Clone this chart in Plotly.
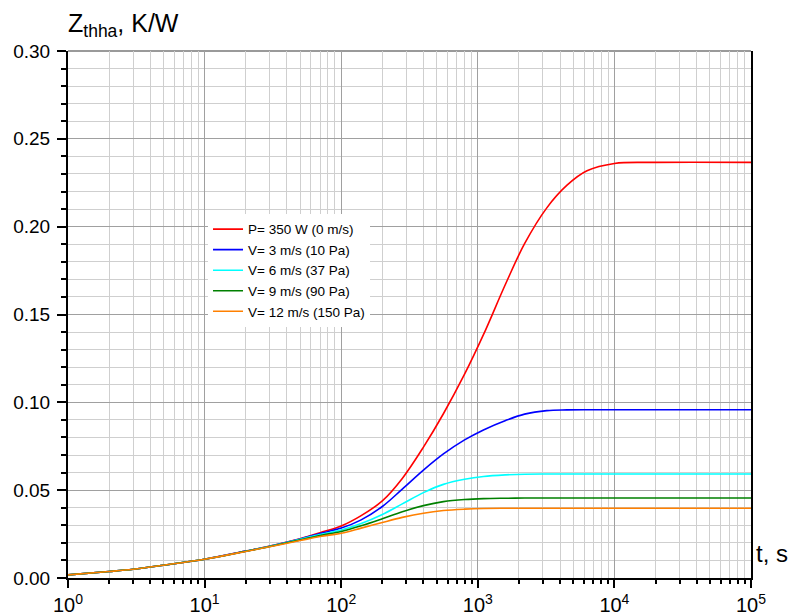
import plotly.graph_objects as go

# time points, s
t = [1, 2, 3, 5, 10, 20, 30, 50, 70, 100, 140, 200, 280, 400, 560, 800,
     1100, 1600, 2200, 3200, 4500, 6300, 10000, 20000, 100000]

# Z_thha, K/W
z_p350 = [0.0018, 0.0037, 0.0050, 0.0073, 0.0107, 0.0153, 0.0182, 0.0224, 0.0258, 0.0296, 0.0355,
          0.0439, 0.0567, 0.0745, 0.0935, 0.1160, 0.1385, 0.1675, 0.1903, 0.2107, 0.2236,
          0.2318, 0.2360, 0.2366, 0.2366]
z_v3 = [0.0018, 0.0037, 0.0050, 0.0073, 0.0107, 0.0153, 0.0181, 0.0222, 0.0253, 0.0284, 0.0331,
        0.0407, 0.0506, 0.0614, 0.0706, 0.0786, 0.0843, 0.0897, 0.0933, 0.0953, 0.0957,
        0.0958, 0.0958, 0.0958, 0.0958]
z_v6 = [0.0018, 0.0037, 0.0050, 0.0073, 0.0107, 0.0152, 0.0180, 0.0220, 0.0248, 0.0273, 0.0310,
        0.0362, 0.0422, 0.0486, 0.0533, 0.0562, 0.0578, 0.0587, 0.0591, 0.0592, 0.0592,
        0.0592, 0.0592, 0.0592, 0.0592]
z_v9 = [0.0018, 0.0037, 0.0050, 0.0073, 0.0107, 0.0152, 0.0179, 0.0217, 0.0242, 0.0265, 0.0297,
        0.0337, 0.0377, 0.0412, 0.0435, 0.0447, 0.0452, 0.0454, 0.0455, 0.0455, 0.0455,
        0.0455, 0.0455, 0.0455, 0.0455]
z_v12 = [0.0018, 0.0037, 0.0050, 0.0073, 0.0107, 0.0151, 0.0178, 0.0213, 0.0236, 0.0255, 0.0284,
         0.0316, 0.0345, 0.0369, 0.0384, 0.0392, 0.0396, 0.0397, 0.0397, 0.0397, 0.0397,
         0.0397, 0.0397, 0.0397, 0.0397]

series_names = ["P= 350 W (0 m/s)", "V= 3 m/s (10 Pa)", "V= 6 m/s (37 Pa)",
                "V= 9 m/s (90 Pa)", "V= 12 m/s (150 Pa)"]
series_values = [z_p350, z_v3, z_v6, z_v9, z_v12]
series_colors = ["#ff0000", "#0000ff", "#00ffff", "#008000", "#ff8000"]

x_tick_vals = [1, 10, 100, 1000, 10000, 100000]
x_tick_text = ["10<sup>0</sup>", "10<sup>1</sup>", "10<sup>2</sup>",
               "10<sup>3</sup>", "10<sup>4</sup>", "10<sup>5</sup>"]
x_minor_vals = [m * 10 ** d for d in range(5) for m in range(2, 10)]

FONT = "Liberation Sans, Arial, sans-serif"

fig = go.Figure()
for name, vals, col in zip(series_names, series_values, series_colors):
    fig.add_trace(go.Scatter(x=t, y=vals, mode="lines", name=name,
                             line=dict(color=col, width=1.6, shape="spline", smoothing=1.0)))

fig.update_layout(
    width=790, height=607,
    margin=dict(l=60, r=47, t=43, b=37, autoexpand=False),
    paper_bgcolor="white", plot_bgcolor="white",
    font=dict(family=FONT, color="black"),
    showlegend=True,
    legend=dict(x=0.205, y=0.691, xanchor="left", yanchor="top",
                bgcolor="white", borderwidth=0,
                font=dict(family=FONT, size=13.5, color="black"),
                itemwidth=30),
    xaxis=dict(type="log", range=[0, 5], automargin=False,
               tickmode="array", tickvals=x_tick_vals, ticktext=x_tick_text,
               ticks="outside", ticklen=8, tickwidth=2, tickcolor="black",
               showline=True, linecolor="black", linewidth=2, mirror=False,
               showgrid=True, gridcolor="#a0a0a0", gridwidth=1, zeroline=False,
               tickfont=dict(family=FONT, size=20, color="black"),
               minor=dict(tickmode="array", tickvals=x_minor_vals, ticks="outside",
                          ticklen=4, tickwidth=1.5, tickcolor="black",
                          showgrid=True, gridcolor="#cfcfcf", gridwidth=1)),
    yaxis=dict(range=[0, 0.30], dtick=0.05, tick0=0, tickformat=".2f", automargin=False,
               ticks="outside", ticklen=9, tickwidth=2, tickcolor="black",
               ticklabelstandoff=3,
               showline=True, linecolor="black", linewidth=2, mirror=True,
               showgrid=True, gridcolor="#a0a0a0", gridwidth=1, zeroline=False,
               tickfont=dict(family=FONT, size=19, color="black"),
               minor=dict(dtick=0.01, ticks="outside", ticklen=5, tickwidth=1.5,
                          tickcolor="black", showgrid=True, gridcolor="#cfcfcf", gridwidth=1)),
    shapes=[dict(type="line", xref="paper", yref="paper", x0=0, x1=1, y0=1, y1=1,
                 line=dict(color="#9a9a9a", width=2), layer="below")],
    annotations=[
        dict(text="Z<sub>thha</sub>, K/W", xref="paper", yref="paper", x=0, y=1,
             xanchor="left", yanchor="bottom", yshift=8, xshift=-2, showarrow=False,
             font=dict(family=FONT, size=25, color="black")),
        dict(text="t, s", xref="paper", yref="paper", x=1, y=0,
             xanchor="left", yanchor="bottom", xshift=3, yshift=9, showarrow=False,
             font=dict(family=FONT, size=24, color="black")),
    ],
)

fig.write_html("out.html")
